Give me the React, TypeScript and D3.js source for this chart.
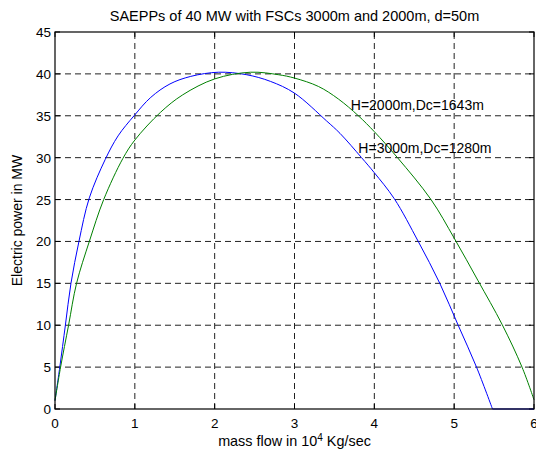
import React from 'react';
import * as d3 from 'd3';

const W = 536;
const H = 452;

const title = 'SAEPPs of 40 MW with FSCs 3000m and 2000m, d=50m';
const xTicks = [0, 1, 2, 3, 4, 5, 6];
const yTicks = [0, 5, 10, 15, 20, 25, 30, 35, 40, 45];

// H=3000m, Dc=1280m (blue)
const blueFlow = [0, 0.06, 0.13, 0.2, 0.3, 0.43, 0.63, 0.79, 0.99, 1.2, 1.44, 1.7, 2.05, 2.4, 2.7, 3.0, 3.4, 3.57, 3.84, 4.0, 4.25, 4.55, 4.82, 5.05, 5.28, 5.48, 6.0];
const bluePower = [1, 5, 10, 15, 20, 25.2, 29.8, 32.6, 35, 37.2, 38.8, 39.7, 40.2, 39.9, 39.1, 37.7, 34.4, 32.9, 30, 28.2, 25.1, 20, 15, 10, 5, 0, 0];

// H=2000m, Dc=1643m (green)
const greenFlow = [0, 0.07, 0.17, 0.27, 0.43, 0.61, 0.85, 1.0, 1.32, 1.6, 2.0, 2.45, 2.8, 3.0, 3.3, 3.55, 3.8, 4.0, 4.29, 4.71, 5.0, 5.3, 5.6, 5.85, 6.0];
const greenPower = [1, 5, 10, 15, 20, 25, 29.9, 32.1, 35.4, 37.5, 39.4, 40.2, 39.9, 39.5, 38.5, 37.0, 35.0, 33.1, 30, 25, 20.4, 15.3, 10.1, 5, 1.1];

const labels = [
  { text: 'H=2000m,Dc=1643m', x: 3.705, y: 35.7 },
  { text: 'H=3000m,Dc=1280m', x: 3.8, y: 30.5 },
];

const margin = { left: 55, right: 2, top: 32, bottom: 43 };

export default function App() {
  const x = d3.scaleLinear().domain([0, 6]).range([margin.left, W - margin.right]);
  const y = d3.scaleLinear().domain([0, 45]).range([H - margin.bottom, margin.top]);
  const [x0, x1] = x.range();
  const [y0, y1] = y.range();

  const smooth = d3
    .line<[number, number]>()
    .x(d => x(d[0]))
    .y(d => y(d[1]))
    .curve(d3.curveCatmullRom.alpha(0.5));
  const straight = d3
    .line<[number, number]>()
    .x(d => x(d[0]))
    .y(d => y(d[1]));

  const bluePts: [number, number][] = blueFlow.map((f, i) => [f, bluePower[i]]);
  const zeroAt = bluePower.indexOf(0);
  // the blue curve hits zero and then runs flat along the axis
  const blue = (smooth(bluePts.slice(0, zeroAt + 1)) || '') + ' ' + (straight(bluePts.slice(zeroAt)) || '');
  const green = smooth(greenFlow.map((f, i) => [f, greenPower[i]]));

  const font = "'Liberation Sans', Arial, sans-serif";
  const grid = { stroke: '#222', strokeWidth: 1, strokeDasharray: '6,4' };

  return (
    <svg width={W} height={H} style={{ position: 'absolute', left: 0, top: 0, background: '#fff' }} fontFamily={font} fontSize={13.5}>
      <rect x={0} y={0} width={W} height={H} fill="#fff" />
      <text x={(x0 + x1) / 2} y={21} textAnchor="middle" fontSize={14.5}>{title}</text>

      {/* grid */}
      {xTicks.slice(1, -1).map(t => (
        <line key={'gx' + t} x1={x(t)} x2={x(t)} y1={y0} y2={y1} {...grid} />
      ))}
      {yTicks.slice(1, -1).map(t => (
        <line key={'gy' + t} x1={x0} x2={x1} y1={y(t)} y2={y(t)} {...grid} />
      ))}

      {/* ticks, inside on all sides */}
      {xTicks.map(t => (
        <g key={'tx' + t} stroke="#000">
          <line x1={x(t)} x2={x(t)} y1={y0} y2={y0 - 5} />
          <line x1={x(t)} x2={x(t)} y1={y1} y2={y1 + 5} />
        </g>
      ))}
      {yTicks.map(t => (
        <g key={'ty' + t} stroke="#000">
          <line x1={x0} x2={x0 + 5} y1={y(t)} y2={y(t)} />
          <line x1={x1} x2={x1 - 5} y1={y(t)} y2={y(t)} />
        </g>
      ))}

      <path d={blue} fill="none" stroke="#0000ff" strokeWidth={1} />
      <path d={green || ''} fill="none" stroke="#008000" strokeWidth={1} />

      <rect x={x0} y={y1} width={x1 - x0} height={y0 - y1} fill="none" stroke="#000" strokeWidth={1.2} />

      {xTicks.map(t => (
        <text key={'lx' + t} x={x(t)} y={y0 + 19} textAnchor="middle">{t}</text>
      ))}
      {yTicks.map(t => (
        <text key={'ly' + t} x={x0 - 4} y={y(t) + 5} textAnchor="end">{t}</text>
      ))}

      {labels.map(l => (
        <text key={l.text} x={x(l.x)} y={y(l.y)} fontSize={14}>{l.text}</text>
      ))}

      <text x={(x0 + x1) / 2} y={446} textAnchor="middle" fontSize={14.4}>
        mass flow in 10<tspan dy={-5} fontSize={10}>4</tspan><tspan dy={5}> Kg/sec</tspan>
      </text>
      <text transform={`translate(22, ${(y0 + y1) / 2}) rotate(-90)`} textAnchor="middle" fontSize={14}>
        Electric power in MW
      </text>
    </svg>
  );
}
